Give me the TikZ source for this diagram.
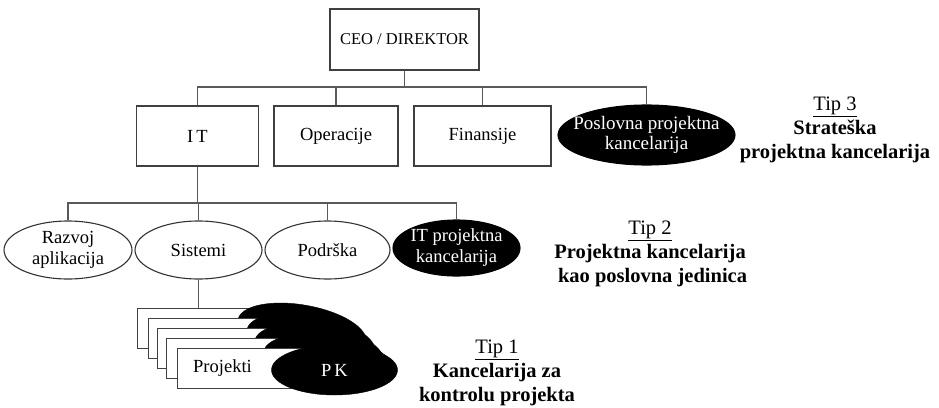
\documentclass[tikz,border=0pt]{standalone}
\usepackage{fontspec}
\setmainfont{Liberation Serif}
\usetikzlibrary{shapes.geometric}
\tikzset{
  conn/.style={draw=black!65, line width=1.1pt},
  unitbox/.style={draw=black!75, line width=1.3pt, fill=white, rectangle, inner sep=0pt,
    minimum height=60pt, font=\fontsize{18.5}{21}\selectfont},
  oval/.style={draw=black!80, line width=1.1pt, fill=white, ellipse, inner xsep=-12pt, inner ysep=-6pt,
    minimum height=58pt, align=center, font=\fontsize{18.5}{21}\selectfont},
  darkoval/.style={oval, fill=black, draw=black, text=white},
  projbox/.style={draw=black!75, line width=1.1pt, fill=white, rectangle, inner sep=0pt,
    anchor=north west, minimum height=40pt},
  pkoval/.style={ellipse, fill=black, draw=black, inner sep=0pt},
  lbl/.style={align=center, font=\fontsize{20.5}{24}\selectfont}
}
\begin{document}
\begin{tikzpicture}[x=1pt, y=-1pt]
\useasboundingbox (0,0) rectangle (939,407);

% level 0
\node[unitbox, minimum width=149pt, minimum height=61pt, font=\fontsize{16.5}{19}\selectfont] (ceo) at (404.5,39.5) {CEO / DIREKTOR};

% level 1
\node[unitbox, minimum width=122pt] (it) at (197.5,136) {I\,T};
\node[unitbox, minimum width=124pt] (op) at (336,136) {Operacije};
\node[unitbox, minimum width=137pt] (fin) at (482.5,136) {Finansije};
\node[darkoval, minimum width=177pt, minimum height=60pt, inner xsep=-25pt, font=\fontsize{19}{20}\selectfont] (ppk) at (646.5,135) {Poslovna projektna\\kancelarija};

\coordinate (b1) at (404.5,87);
\draw[conn] (ceo.south) -- (b1);
\draw[conn] (it.north) |- (b1) -| (ppk.north);
\draw[conn] (op.north) -- (op.north |- b1);
\draw[conn] (fin.north) -- (fin.north |- b1);

% level 2
\node[oval, minimum width=128pt] (raz) at (68,250) {Razvoj\\aplikacija};
\node[oval, minimum width=127pt] (sis) at (198.5,250) {Sistemi};
\node[oval, minimum width=125pt] (pod) at (327.5,250) {Podrška};
\node[darkoval, minimum width=127pt, minimum height=56pt] (itpk) at (456.5,248) {IT projektna\\kancelarija};

\coordinate (b2) at (198,203);
\draw[conn] (it.south) -- (it.south |- b2);
\draw[conn] (raz.north) |- (b2) -| (itpk.north);
\draw[conn] (sis.north) -- (sis.north |- b2);
\draw[conn] (pod.north) -- (pod.north |- b2);

% level 3: stacked projects
\node[projbox, minimum width=163pt] (p1) at (137,308) {};
\node[pkoval, rotate=-10, minimum width=130pt, minimum height=52pt] (e1) at (302,331) {};
\node[projbox, minimum width=157pt] (p2) at (148,318) {};
\node[pkoval, rotate=-10, minimum width=130pt, minimum height=52pt] (e2) at (311,341) {};
\node[projbox, minimum width=157pt] (p3) at (157,328) {};
\node[pkoval, rotate=-9, minimum width=130pt, minimum height=52pt] (e3) at (319,351) {};
\node[projbox, minimum width=156pt] (p4) at (166,338) {};
\node[pkoval, rotate=-7, minimum width=128pt, minimum height=51pt] (e4) at (327,360) {};
\node[projbox, minimum width=153pt] (p5) at (177,348) {};
\node[pkoval, minimum width=126pt, minimum height=50pt, text=white, font=\fontsize{18.5}{20}\selectfont] (e5) at (334.5,370) {P\,K};
\node[font=\fontsize{18.5}{20}\selectfont] (projt) at (222.5,368) {Projekti};

\draw[conn] (sis.south) -- (sis.south |- p1.north);

% type labels
\node[lbl] (t3) at (835,130) {\underline{Tip 3}\\\textbf{Strateška}\\\textbf{projektna kancelarija}};
\node[lbl] (t2) at (650,254) {\underline{Tip 2}\\\textbf{Projektna kancelarija}\\\textbf{\ kao poslovna jedinica}};
\node[lbl] (t1) at (497,373) {\underline{Tip 1}\\\textbf{Kancelarija za}\\\textbf{kontrolu projekta}};
\end{tikzpicture}
\end{document}
